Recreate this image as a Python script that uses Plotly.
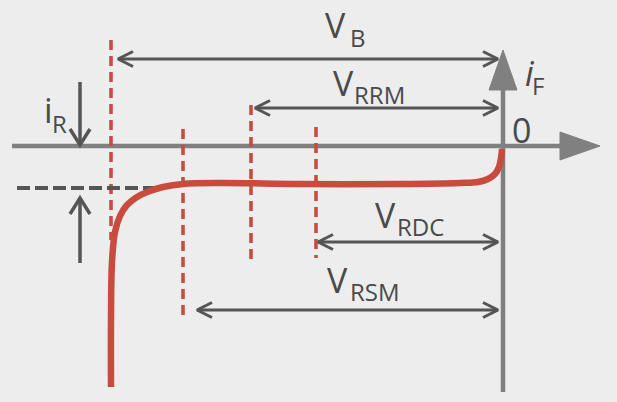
import plotly.graph_objects as go

# ---- data (diagram units: x to the right, y downward) ----
# reverse characteristic curve of the diode
curve_x = [111, 111, 112, 115, 120, 127, 137, 150, 163, 183, 220, 300, 400, 460, 478, 488, 495, 499, 501, 502]
curve_y = [387, 320, 262, 232, 216, 205, 197, 191, 187, 184, 183, 184, 184, 183, 182, 179, 174, 167, 158, 149]

# dimension arrows (voltage ratings)
dim_main = ["V", "V", "V", "V"]
dim_sub = ["B", "RRM", "RDC", "RSM"]
dim_left = [118, 255, 318, 197]
dim_right = [498, 498, 498, 498]
dim_level = [59, 108, 242, 310]

# label placement (main letter / subscript)
main_x = [323, 331, 373, 325]
main_y = [25, 82.5, 215, 280]
sub_x = [348, 352, 395, 348]
sub_y = [37.5, 94, 226.5, 291.5]

# red dashed marker lines
mark_x = [111, 183, 251, 316]
mark_top = [40, 129, 105, 127]
mark_bottom = [240, 320, 262, 258]

# axes
origin_x, origin_y = 503, 146
axis_left, axis_bottom = 12, 392
haxis_head = [560, 600]      # base, tip
vaxis_head = [90, 50]        # base, tip

# reverse current level
ir_level = 188
ir_x0, ir_x1 = 17, 165
ir_arrow_x = 80
ir_down = [82, 145]
ir_up = [263, 198]

RED = "#c94b3e"
AX = "#808080"
DARK = "#555555"
TXT = "#4a4a4a"
FONT = "Open Sans"
MAIN_SIZE = 34
SUB_SIZE = 24

fig = go.Figure()


def line(xs, ys, color, width, dash="solid"):
    fig.add_trace(go.Scatter(x=xs, y=ys, mode="lines", hoverinfo="skip",
                             line=dict(color=color, width=width, dash=dash)))


def chevron(tx, ty, dx, dy, color=DARK, width=3, L=14, H=7.5):
    # tip at (tx,ty), pointing in direction (dx,dy)
    px, py = -dy, dx
    xs = [tx - dx * L + px * H, tx, tx - dx * L - px * H]
    ys = [ty - dy * L + py * H, ty, ty - dy * L - py * H]
    line(xs, ys, color, width)


def label(x, y, text, size):
    fig.add_annotation(x=x, y=y, text=text, showarrow=False, xanchor="left", yanchor="middle",
                       font=dict(family=FONT, size=size, color=TXT))


# axes
line([axis_left, haxis_head[0]], [origin_y, origin_y], AX, 4.5)
line([origin_x, origin_x], [axis_bottom, vaxis_head[0]], AX, 4.5)
fig.add_trace(go.Scatter(x=[haxis_head[0], haxis_head[1], haxis_head[0], haxis_head[0]],
                         y=[origin_y - 14, origin_y, origin_y + 14, origin_y - 14],
                         mode="lines", fill="toself", fillcolor=AX, hoverinfo="skip",
                         line=dict(color=AX, width=1)))
fig.add_trace(go.Scatter(x=[origin_x - 14, origin_x, origin_x + 14, origin_x - 14],
                         y=[vaxis_head[0], vaxis_head[1], vaxis_head[0], vaxis_head[0]],
                         mode="lines", fill="toself", fillcolor=AX, hoverinfo="skip",
                         line=dict(color=AX, width=1)))

# red dashed markers
for mx, t, b in zip(mark_x, mark_top, mark_bottom):
    line([mx, mx], [t, b], RED, 3.6, "10px,6px")

# reverse current dashed level
line([ir_x0, ir_x1], [ir_level, ir_level], DARK, 4, "13px,5px")

# i_R arrows
line([ir_arrow_x, ir_arrow_x], ir_down, DARK, 3.5)
chevron(ir_arrow_x, ir_down[1], 0, 1, width=3.5, L=16, H=10)
line([ir_arrow_x, ir_arrow_x], ir_up, DARK, 3.5)
chevron(ir_arrow_x, ir_up[1], 0, -1, width=3.5, L=16, H=10)

# dimension arrows
for l, r, yv in zip(dim_left, dim_right, dim_level):
    line([l, r], [yv, yv], DARK, 3)
    chevron(l, yv, -1, 0, L=15)
    chevron(r, yv, 1, 0, L=15)

# curve
line(curve_x, curve_y, RED, 6.5)
fig.data[-1].line.shape = "spline"

# labels
for m, s, mx, my, sx, sy in zip(dim_main, dim_sub, main_x, main_y, sub_x, sub_y):
    label(mx, my, m, MAIN_SIZE)
    label(sx, sy, s, SUB_SIZE)
label(42, 110, "i", MAIN_SIZE)
label(50, 123.5, "R", SUB_SIZE)
label(523, 72.5, "<i>i</i>", MAIN_SIZE)
label(530, 85.5, "F", SUB_SIZE)
label(510, 129.5, "0", MAIN_SIZE)

fig.update_layout(width=617, height=402, margin=dict(l=0, r=0, t=0, b=0),
                  paper_bgcolor="#ededed", plot_bgcolor="#ededed", showlegend=False,
                  xaxis=dict(range=[0, 617], visible=False, fixedrange=True),
                  yaxis=dict(range=[402, 0], visible=False, fixedrange=True))
fig.write_html("out.html", config={"displayModeBar": False},
               post_script="document.body.style.margin='0';document.body.style.overflow='hidden';")
